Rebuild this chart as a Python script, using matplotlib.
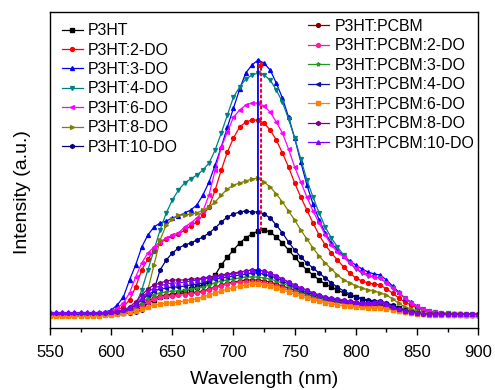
import numpy as np
import matplotlib.pyplot as plt
from matplotlib.ticker import MultipleLocator

plt.rcParams["font.family"] = ["Liberation Sans", "DejaVu Sans"]

# wavelength grid (nm), one point every 5 nm
wavelength = np.arange(550, 901, 5)

# intensities (arbitrary units)
p3ht = [0, 0, 0, 0, 0, 0, 0, 0, 0.5, 0.5,
        1, 1.5, 2, 3, 5, 8, 12, 15, 18, 19,
        20, 22, 24, 26, 28, 30, 33, 40, 50, 58,
        65, 72, 77, 81, 84, 85, 83, 78, 72, 65,
        58, 51, 45, 40, 35, 31, 28, 25, 22, 20,
        18, 16, 14, 13, 13, 11, 9, 7, 5, 4,
        3, 2, 1.5, 1, 1, 0.5, 0.5, 0.5, 0, 0,
        0]
p3ht_2do = [0, 0, 0, 0, 0, 0, 0, 0.5, 1, 1.5,
            3, 5, 8, 15, 28, 45, 56, 64, 72, 76,
            79, 81, 85, 89, 93, 100, 108, 125, 145, 163,
            177, 188, 193, 195, 195, 192, 185, 175, 162, 148,
            132, 118, 105, 92, 80, 70, 62, 55, 48, 42,
            37, 34, 32, 31, 30, 26, 22, 17, 13, 10,
            7, 5, 3, 2, 1.5, 1, 1, 0.5, 0.5, 0,
            0]
p3ht_3do = [0, 0, 0, 0, 0, 0, 0.5, 1, 1.5, 3,
            5, 10, 18, 35, 50, 68, 80, 88, 92, 94,
            97, 99, 102, 105, 110, 120, 133, 150, 168, 188,
            207, 226, 242, 250, 255, 252, 245, 232, 217, 198,
            177, 153, 130, 111, 95, 82, 72, 65, 59, 54,
            50, 46, 43, 41, 40, 35, 29, 23, 17, 13,
            9, 6, 4, 3, 2, 1.5, 1, 1, 0.5, 0.5,
            0]
p3ht_4do = [0, 0, 0, 0, 0, 0, 0, 0.5, 1, 1,
            1.5, 2, 3, 5, 10, 25, 45, 65, 85, 102,
            115, 125, 132, 136, 140, 145, 152, 165, 182, 200,
            218, 228, 236, 240, 242, 240, 235, 225, 213, 196,
            177, 156, 135, 118, 102, 88, 77, 68, 60, 52,
            46, 42, 39, 38, 37, 32, 27, 22, 17, 12,
            8, 6, 4, 3, 2, 1.5, 1, 1, 0.5, 0.5,
            0]
p3ht_6do = [0, 0, 0, 0, 0, 0, 0.5, 1, 1.5, 2,
            4, 7, 12, 22, 38, 52, 62, 68, 73, 77,
            80, 82, 88, 92, 97, 104, 120, 145, 168, 183,
            198, 205, 210, 212, 212, 209, 203, 193, 182, 166,
            148, 133, 118, 104, 92, 80, 70, 63, 58, 52,
            47, 43, 40, 38, 37, 32, 27, 22, 17, 12,
            9, 6, 4, 3, 2, 1.5, 1, 1, 0.5, 0.5,
            0]
p3ht_8do = [0, 0, 0, 0, 0, 0, 0, 0, 0.5, 0.5,
            1, 1.5, 2, 3, 5, 10, 25, 50, 75, 90,
            96, 100, 100, 101, 102, 105, 108, 113, 120, 126,
            130, 132, 134, 136, 137, 133, 128, 121, 113, 104,
            95, 85, 76, 67, 59, 52, 46, 40, 35, 32,
            29, 27, 25, 24, 22, 20, 16, 12, 8, 6,
            4, 3, 2, 1.5, 1, 1, 0.5, 0.5, 0, 0,
            0]
p3ht_10do = [0, 0, 0, 0, 0, 0, 0, 0, 0, 0.5,
             0.5, 1, 1.5, 2, 3, 5, 12, 25, 45, 55,
             62, 67, 70, 72, 75, 78, 82, 87, 93, 98,
             101, 103, 104, 103, 103, 101, 97, 90, 82, 73,
             65, 58, 52, 47, 42, 37, 32, 28, 24, 21,
             18, 16, 15, 14, 14, 12, 10, 7, 5, 3,
             2, 1.5, 1, 1, 0.5, 0.5, 0, 0, 0, 0,
             0]
pcbm = [0, 0, 0, 0, 0, 0, 0, 0, 0.5, 1,
        1, 1.5, 2.5, 4, 7, 10, 14, 17, 19, 20,
        21, 21, 22, 22, 23, 24, 26, 28, 30, 32,
        33, 34, 35, 35, 35, 34, 33, 31, 29, 27,
        25, 23, 21, 19, 17, 15, 14, 13, 12, 11,
        10, 9, 9, 9, 9, 8, 6, 5, 3, 2,
        1.5, 1, 1, 0.5, 0.5, 0, 0, 0, 0, 0,
        0]
pcbm_2do = [0, 0, 0, 0, 0, 0, 0, 0, 0.5, 0.5,
            1, 1.5, 2, 3.5, 6, 9, 13, 16, 18, 19,
            19, 20, 20, 21, 22, 23, 25, 27, 29, 31,
            32, 33, 33, 33, 33, 32, 31, 29, 27, 25,
            23, 21, 19, 17, 16, 14, 13, 12, 11, 10,
            9, 8.5, 8, 8, 8, 7, 5.5, 4, 3, 2,
            1.5, 1, 0.5, 0.5, 0, 0, 0, 0, 0, 0,
            0]
pcbm_3do = [0, 0, 0, 0, 0, 0, 0, 0.5, 0.5, 1,
            1, 2, 3, 5, 8, 12, 17, 20, 22, 23,
            24, 24, 25, 26, 27, 28, 30, 32, 34, 35,
            36, 37, 38, 38, 38, 37, 36, 34, 32, 29,
            27, 24, 22, 20, 18, 16, 15, 14, 13, 12,
            11, 10, 10, 10, 10, 8, 7, 5, 4, 2.5,
            1.5, 1, 1, 0.5, 0.5, 0, 0, 0, 0, 0,
            0]
pcbm_4do = [0.5, 0.5, 0.5, 0.5, 0.5, 0.5, 0.5, 1, 1, 1,
            1.5, 2.5, 4, 6, 10, 15, 20, 24, 26, 27,
            28, 28, 29, 30, 31, 32, 34, 36, 37, 38,
            39, 40, 41, 42, 42, 41, 39, 37, 34, 31,
            28, 25, 23, 21, 19, 17, 16, 15, 14, 13,
            12, 11, 11, 11, 11, 9, 7, 5, 4, 3,
            2, 1, 1, 0.5, 0.5, 0.5, 0, 0, 0, 0,
            0]
pcbm_6do = [-1.5, -1.5, -1.5, -1.5, -1.5, -1.5, -1.5, -1.5, -1, -0.5,
            0, 1, 1.5, 2.5, 4, 6, 8, 10, 11, 12,
            12, 13, 14, 15, 16, 18, 20, 22, 24, 26,
            27, 29, 30, 31, 31, 30, 29, 27, 25, 23,
            21, 19, 17, 15, 14, 12, 11, 10, 9, 8.5,
            8, 7.5, 7, 7, 7, 6, 5, 4, 3, 2,
            1, 0.5, 0, 0, 0, -0.5, -0.5, -0.5, -0.5, -0.5,
            -0.5]
pcbm_8do = [2, 2, 2, 2, 2, 2, 2, 2, 2, 2,
            2.5, 3, 5, 8, 13, 20, 26, 30, 32, 34,
            35, 35, 35, 36, 36, 37, 38, 39, 40, 41,
            42, 43, 44, 45, 45, 44, 42, 39, 36, 33,
            30, 27, 25, 22, 20, 18, 17, 16, 15, 14,
            13, 12, 12, 12, 13, 11, 8, 6, 4, 3,
            2, 1, 1, 1, 1, 1, 1, 1, 1, 1,
            1]
pcbm_10do = [2.5, 2.5, 2.5, 2.5, 2.5, 2.5, 2.5, 2.5, 2.5, 2.5,
             3, 3.5, 4.5, 7, 11, 17, 23, 27, 29, 31,
             32, 32, 33, 34, 35, 36, 37, 38, 39, 40,
             41, 42, 44, 45, 45, 44, 42, 39, 36, 33,
             30, 27, 25, 22, 20, 18, 17, 16, 15, 14,
             13, 12, 12, 13, 14, 11, 8, 6, 4, 3,
             2, 1.5, 1, 1, 1, 1, 1, 1, 1, 1,
             1]

# arrow positions (nm) and levels
arrow_blue_x, arrow_blue_top, arrow_blue_bottom = 720, 255, 38
arrow_red_x, arrow_red_bottom, arrow_red_top = 722.5, 85, 255

left_series = [
    ("P3HT", p3ht, "black", "s"),
    ("P3HT:2-DO", p3ht_2do, "#ff0000", "o"),
    ("P3HT:3-DO", p3ht_3do, "#0000ff", "^"),
    ("P3HT:4-DO", p3ht_4do, "#008080", "v"),
    ("P3HT:6-DO", p3ht_6do, "#ff00ff", "<"),
    ("P3HT:8-DO", p3ht_8do, "#808000", ">"),
    ("P3HT:10-DO", p3ht_10do, "#000080", "h"),
]
right_series = [
    ("P3HT:PCBM", pcbm, "#800000", "o"),
    ("P3HT:PCBM:2-DO", pcbm_2do, "#ff1f8f", "o"),
    ("P3HT:PCBM:3-DO", pcbm_3do, "#1f9a1f", "*"),
    ("P3HT:PCBM:4-DO", pcbm_4do, "#1010a8", "<"),
    ("P3HT:PCBM:6-DO", pcbm_6do, "#ff8000", "s"),
    ("P3HT:PCBM:8-DO", pcbm_8do, "#800080", "h"),
    ("P3HT:PCBM:10-DO", pcbm_10do, "#8000ff", "^"),
]

fig = plt.figure(figsize=(4.95, 3.9), dpi=100)
ax = fig.add_axes([0.101, 0.159, 0.865, 0.81])

left_handles = []
for label, vals, color, marker in left_series:
    (h,) = ax.plot(wavelength, vals, color=color, marker=marker, markersize=2.8,
                   linewidth=0.9, label=label)
    left_handles.append(h)

right_handles = []
for label, vals, color, marker in right_series:
    (h,) = ax.plot(wavelength, vals, color=color, marker=marker, markersize=2.8,
                   linewidth=0.9, label=label)
    right_handles.append(h)

# arrows marking the peak change
ax.annotate("", xy=(arrow_blue_x, arrow_blue_bottom), xytext=(arrow_blue_x, arrow_blue_top),
            arrowprops=dict(arrowstyle="-|>", color="#0000ff", lw=1.3,
                            mutation_scale=8, shrinkA=0, shrinkB=0))
ax.annotate("", xy=(arrow_red_x, arrow_red_top), xytext=(arrow_red_x, arrow_red_bottom),
            arrowprops=dict(arrowstyle="-|>", color="#ff0000", lw=1.5, linestyle=":",
                            mutation_scale=8, shrinkA=0, shrinkB=0))

ax.set_xlim(550, 900)
ax.set_ylim(-13, 303)
ax.xaxis.set_major_locator(MultipleLocator(50))
ax.xaxis.set_minor_locator(MultipleLocator(25))
ax.set_yticks([])
ax.tick_params(axis="x", which="major", direction="out", length=5, width=1, labelsize=12, pad=7)
ax.tick_params(axis="x", which="minor", direction="out", length=3, width=1)
for s in ax.spines.values():
    s.set_linewidth(1.0)

ax.set_xlabel("Wavelength (nm)", fontsize=14, labelpad=8)
ax.set_ylabel("Intensity (a.u.)", fontsize=14)
ax.yaxis.set_label_coords(-0.045, 0.43)

leg_kw = dict(loc="upper left", frameon=False, fontsize=11.4, borderpad=0, borderaxespad=0,
              labelspacing=0.28, handlelength=1.3, handletextpad=0.35)
leg1 = ax.legend(handles=left_handles, bbox_to_anchor=(0.028, 0.965), **leg_kw)
ax.add_artist(leg1)
ax.legend(handles=right_handles, bbox_to_anchor=(0.603, 0.978), **leg_kw)

fig.savefig("out.png", dpi=100)
